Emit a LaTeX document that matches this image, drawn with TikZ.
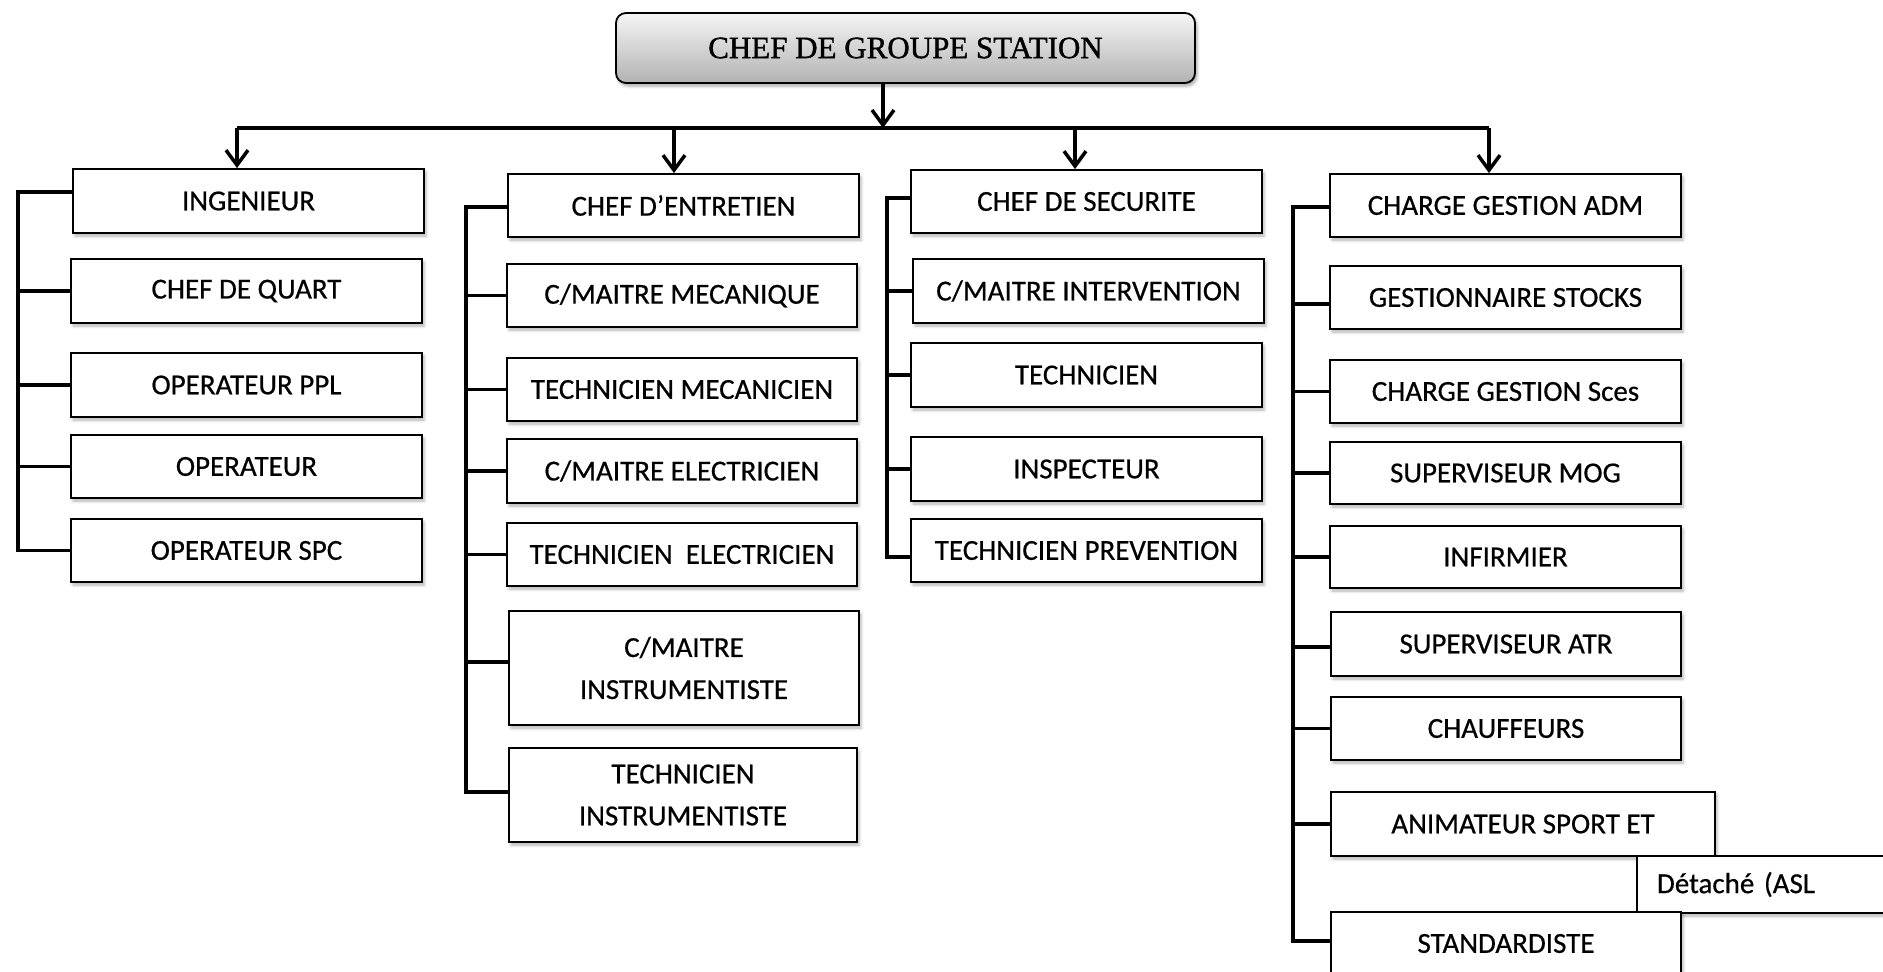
\documentclass[tikz,border=0pt]{standalone}
\usepackage{fontspec}
\setmainfont[RawFeature={embolden=0.6}]{Carlito}
\newfontfamily\titlefont[RawFeature={embolden=1.2}]{Liberation Serif}
\usetikzlibrary{arrows.meta,shadows.blur,calc}
\begin{document}
\begin{tikzpicture}[x=1pt,y=-1pt,
  box/.style={draw=black, line width=1.8pt, fill=white, inner sep=0pt, align=center,
     font=\fontsize{29}{42}\selectfont,
     blur shadow={shadow xshift=2pt, shadow yshift=-3pt, shadow blur radius=3pt, shadow opacity=30}},
  topbox/.style={draw=black, line width=1.8pt, rounded corners=10pt, top color=black!4, bottom color=black!30,
     inner sep=0pt, font=\titlefont\fontsize{31}{36}\selectfont,
     blur shadow={shadow xshift=2pt, shadow yshift=-3pt, shadow blur radius=3pt, shadow opacity=35}},
  br/.style={line width=3.5pt},
  arr/.style={line width=3.5pt, -{Straight Barb[length=15pt,width=22pt]}}
]
\path[use as bounding box] (0,0) rectangle (1883,972);
\clip (0,0) rectangle (1883,972);

% top
\node[topbox, minimum width=579pt, minimum height=70pt] (chief) at (905.5,48) {CHEF DE GROUPE STATION};

% column 1
\node[box, minimum width=351pt, minimum height=64pt] (ing) at (248.5,201) {INGENIEUR};
\node[box, minimum width=351pt, minimum height=64pt] (cdq) at (246.5,291) {CHEF DE QUART};
\node[box, minimum width=351pt, minimum height=64pt] (ppl) at (246.5,385) {OPERATEUR PPL};
\node[box, minimum width=351pt, minimum height=63pt] (op) at (246.5,466.5) {OPERATEUR};
\node[box, minimum width=351pt, minimum height=63pt] (spc) at (246.5,550.5) {OPERATEUR SPC};

% column 2
\node[box, minimum width=351pt, minimum height=63pt] (ent) at (683.5,205.5) {CHEF D’ENTRETIEN};
\node[box, minimum width=350pt, minimum height=63pt] (mmeca) at (682,295.5) {C/MAITRE MECANIQUE};
\node[box, minimum width=350pt, minimum height=63pt] (tmeca) at (682,389.5) {TECHNICIEN MECANICIEN};
\node[box, minimum width=350pt, minimum height=64pt] (melec) at (682,471) {C/MAITRE ELECTRICIEN};
\node[box, minimum width=350pt, minimum height=63pt] (telec) at (682,554.5) {TECHNICIEN\ \ ELECTRICIEN};
\node[box, minimum width=350pt, minimum height=114pt] (minst) at (684,668) {C/MAITRE\\INSTRUMENTISTE};
\node[box, minimum width=348pt, minimum height=94pt] (tinst) at (683,795) {TECHNICIEN\\INSTRUMENTISTE};

% column 3
\node[box, minimum width=351pt, minimum height=63pt] (sec) at (1086.5,201.5) {CHEF DE SECURITE};
\node[box, minimum width=351pt, minimum height=64pt] (minter) at (1088.5,291) {C/MAITRE INTERVENTION};
\node[box, minimum width=351pt, minimum height=64pt] (tech) at (1086.5,375) {TECHNICIEN};
\node[box, minimum width=351pt, minimum height=64pt] (insp) at (1086.5,469) {INSPECTEUR};
\node[box, minimum width=351pt, minimum height=63pt] (tprev) at (1086.5,550.5) {TECHNICIEN PREVENTION};

% column 4
\node[box, minimum width=351pt, minimum height=63pt] (adm) at (1505.5,205.5) {CHARGE GESTION ADM};
\node[box, minimum width=351pt, minimum height=63pt] (stocks) at (1505.5,297.5) {GESTIONNAIRE STOCKS};
\node[box, minimum width=351pt, minimum height=63pt] (sces) at (1505.5,391.5) {CHARGE GESTION Sces};
\node[box, minimum width=351pt, minimum height=62pt] (mog) at (1505.5,473) {SUPERVISEUR MOG};
\node[box, minimum width=351pt, minimum height=62pt] (inf) at (1505.5,557) {INFIRMIER};
\node[box, minimum width=350pt, minimum height=64pt] (atr) at (1506,644) {SUPERVISEUR ATR};
\node[box, minimum width=350pt, minimum height=63pt] (chauf) at (1506,728.5) {CHAUFFEURS};
\node[box, minimum width=384pt, minimum height=64pt] (anim) at (1523,824) {ANIMATEUR SPORT ET};
\node[box, minimum width=263pt, minimum height=57pt, text width=223pt, inner xsep=20pt, align=left] (det) at (1768.5,884.5) {Détaché (ASL};
\node[box, minimum width=350pt, minimum height=63pt] (std) at (1506,943.5) {STANDARDISTE};

% bus and arrows
\coordinate (bc) at (883,128);
\coordinate (b1) at (237,128);
\coordinate (b2) at (674,128);
\coordinate (b3) at (1075,128);
\coordinate (b4) at (1489,128);
\draw[br] (b1) -- (b4);
\draw[arr] (chief.south -| bc) -- (bc);
\draw[arr] (b1) -- (b1 |- ing.north);
\draw[arr] (b2) -- (b2 |- ent.north);
\draw[arr] (b3) -- (b3 |- sec.north);
\draw[arr] (b4) -- (b4 |- adm.north);

% brackets
\coordinate (k1) at (18,0);
\coordinate (k2) at (466,0);
\coordinate (k3) at (887,0);
\coordinate (k4) at (1293,0);

\draw[br] ([yshift=9pt]ing.west) -| (k1 |- spc.west) -- (spc.west);
\foreach \n in {cdq,ppl,op} \draw[br] (k1 |- \n.west) -- (\n.west);

\draw[br] ([yshift=-1.5pt]ent.west) -| ([yshift=3pt]k2 |- tinst.west) -- ([yshift=3pt]tinst.west);
\foreach \n in {mmeca,tmeca,melec,telec} \draw[br] (k2 |- \n.west) -- (\n.west);
\draw[br] ([yshift=6pt]k2 |- minst.west) -- ([yshift=6pt]minst.west);

\draw[br] ([yshift=3.5pt]sec.west) -| ([yshift=-6.5pt]k3 |- tprev.west) -- ([yshift=-6.5pt]tprev.west);
\foreach \n in {minter,tech,insp} \draw[br] (k3 |- \n.west) -- (\n.west);

\draw[br] ([yshift=-1.5pt]adm.west) -| ([yshift=2.5pt]k4 |- std.west) -- ([yshift=2.5pt]std.west);
\draw[br] ([yshift=-6.5pt]k4 |- stocks.west) -- ([yshift=-6.5pt]stocks.west);
\foreach \n in {sces,mog,inf,chauf,anim} \draw[br] (k4 |- \n.west) -- (\n.west);
\draw[br] ([yshift=-3pt]k4 |- atr.west) -- ([yshift=-3pt]atr.west);
\end{tikzpicture}
\end{document}
